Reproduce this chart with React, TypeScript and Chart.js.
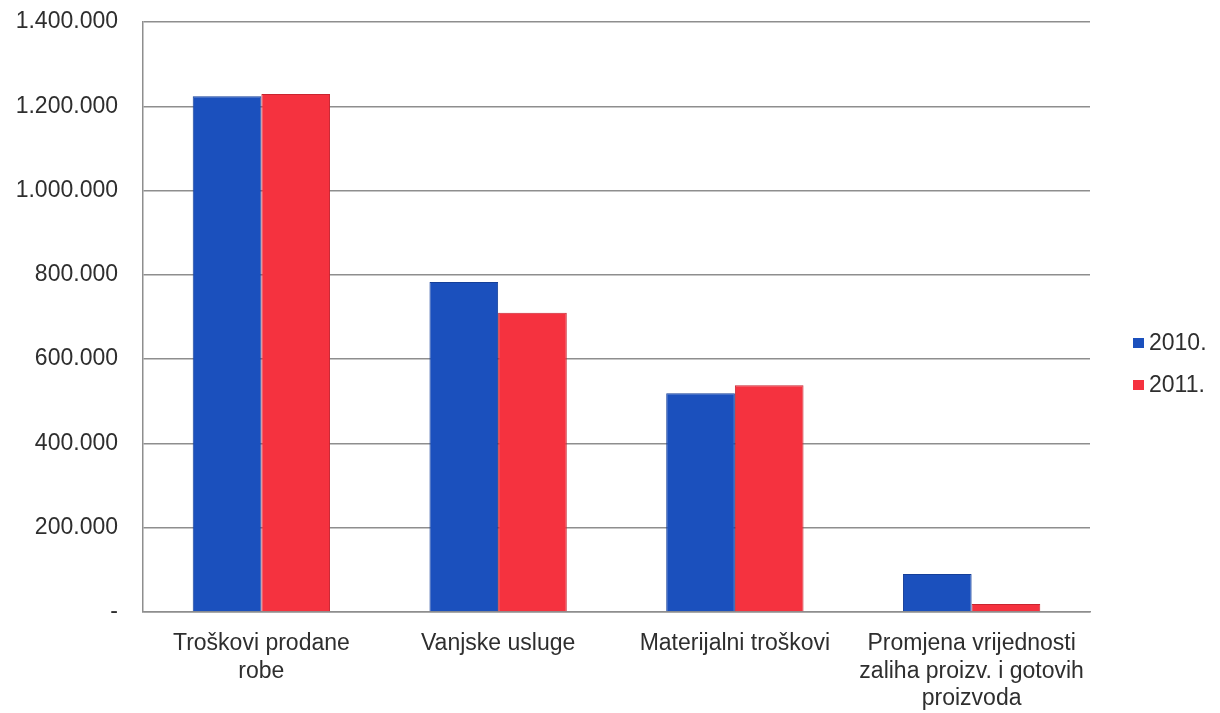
import React, { useEffect, useRef } from "react";
import { Chart, registerables } from "chart.js";

Chart.register(...registerables);

const categories: string[][] = [
  ["Troškovi prodane", "robe"],
  ["Vanjske usluge"],
  ["Materijalni troškovi"],
  ["Promjena vrijednosti", "zaliha proizv. i gotovih", "proizvoda"],
];
const seriesNames = ["2010.", "2011."];
const values2010 = [1224000, 783000, 519000, 90000];
const values2011 = [1229000, 710000, 538000, 19000];
const yTicks = [0, 200000, 400000, 600000, 800000, 1000000, 1200000, 1400000];

const BLUE = "#1b50bd";
const RED = "#f5323f";
const TEXT = "#2e2e2e";
const FONT = "'Liberation Sans', Arial, sans-serif";

function fmt(v: number): string {
  if (v === 0) return "-";
  return String(Math.round(v)).replace(/\B(?=(\d{3})+(?!\d))/g, ".");
}

const legendPlugin = {
  id: "customLegend",
  afterDraw(chart: any) {
    const ctx = chart.ctx;
    const ds = chart.data.datasets;
    const centers = [343, 385];
    ctx.save();
    ctx.font = `23px ${FONT}`;
    ctx.textBaseline = "middle";
    ds.forEach((d: any, i: number) => {
      const cy = centers[i];
      ctx.fillStyle = d.backgroundColor;
      ctx.fillRect(1133, cy - 5, 11, 10);
      ctx.fillStyle = TEXT;
      ctx.fillText(d.label, 1149, cy + 1);
    });
    ctx.restore();
  },
};

export default function App() {
  const ref = useRef<HTMLCanvasElement | null>(null);
  useEffect(() => {
    if (!ref.current) return;
    const chart = new Chart(ref.current, {
      type: "bar",
      data: {
        labels: categories,
        datasets: [
          {
            label: seriesNames[0],
            data: values2010,
            backgroundColor: BLUE,
            borderColor: "#153f99",
            borderWidth: 1,
          },
          {
            label: seriesNames[1],
            data: values2011,
            backgroundColor: RED,
            borderColor: "#c92530",
            borderWidth: 1,
          },
        ],
      },
      options: {
        animation: false,
        responsive: true,
        maintainAspectRatio: false,
        layout: { padding: { top: 22, right: 130, left: 0, bottom: 0 } },
        plugins: { legend: { display: false }, tooltip: { enabled: false } },
        datasets: { bar: { categoryPercentage: 0.58, barPercentage: 1 } },
        scales: {
          x: {
            grid: { display: false, drawTicks: false },
            border: { display: true, color: "#8e8e8e", width: 1.5 },
            ticks: {
              color: TEXT,
              font: { family: FONT, size: 23, lineHeight: 1.2 },
              padding: 18,
              maxRotation: 0,
              autoSkip: false,
            },
            afterFit: (s: any) => {
              s.height = 101;
              s.paddingLeft = 0;
              s.paddingRight = 0;
            },
          },
          y: {
            min: 0,
            max: 1400000,
            afterBuildTicks: (s: any) => {
              s.ticks = yTicks.map((v) => ({ value: v }));
            },
            grid: { color: "#8e8e8e", lineWidth: 1.5, drawTicks: false },
            border: { display: true, color: "#8e8e8e", width: 1.5 },
            ticks: {
              color: TEXT,
              font: { family: FONT, size: 23 },
              padding: 25,
              callback: (v: any) => fmt(Number(v)),
            },
            afterFit: (s: any) => {
              s.width = 143;
              s.paddingTop = 0;
              s.paddingBottom = 0;
            },
          },
        },
      },
      plugins: [legendPlugin],
    });
    return () => chart.destroy();
  }, []);
  return (
    <div
      style={{
        position: "fixed",
        left: 0,
        top: 0,
        width: 1220,
        height: 713,
        background: "#fff",
      }}
    >
      <canvas ref={ref} />
    </div>
  );
}
